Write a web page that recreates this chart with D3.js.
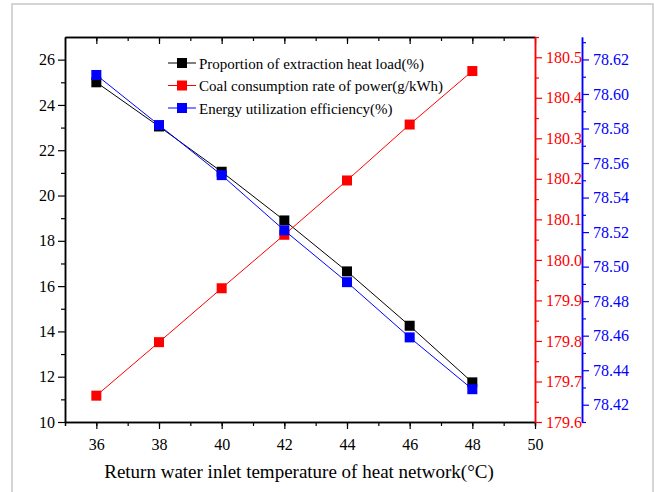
<!DOCTYPE html>
<html>
<head>
<meta charset="utf-8">
<script src="https://cdn.jsdelivr.net/npm/d3@7"></script>
<style>
  body { margin: 0; background: #fff; }
  svg text { font-family: "Liberation Serif", "Times New Roman", serif; }
</style>
</head>
<body>
<svg id="chart" width="654" height="492"></svg>
<script>
// data
var temps = [36, 38, 40, 42, 44, 46, 48];
var heatLoad = [25.0, 23.05, 21.05, 18.9, 16.65, 14.25, 11.75];
var coalRate = [179.665, 179.797, 179.93, 180.062, 180.196, 180.334, 180.466];
var efficiency = [78.611, 78.582, 78.553, 78.521, 78.491, 78.459, 78.429];

var xTicks = [36, 38, 40, 42, 44, 46, 48, 50];
var leftTicks = [10, 12, 14, 16, 18, 20, 22, 24, 26];
var redTicks = [179.6, 179.7, 179.8, 179.9, 180.0, 180.1, 180.2, 180.3, 180.4, 180.5];
var blueTicks = [78.42, 78.44, 78.46, 78.48, 78.50, 78.52, 78.54, 78.56, 78.58, 78.60, 78.62];

var legendNames = ["Proportion of extraction heat load(%)",
                   "Coal consumption rate of power(g/kWh)",
                   "Energy utilization efficiency(%)"];
var colors = ["#000", "#ff0000", "#0000ff"];

var L = 65, R = 535, T = 37, B = 422;
var svg = d3.select("#chart");

// grey frame
svg.append("rect")
    .attr("x", 12).attr("y", 4)
    .attr("width", 641).attr("height", 500)
    .attr("fill", "none")
    .attr("stroke", "#c8c8c8")
    .attr("stroke-width", 1.5);

var x = d3.scaleLinear().domain([35, 50]).range([L, R]);
var yL = d3.scaleLinear().domain([10, 27]).range([B, T]);
var yR = d3.scaleLinear().domain([179.6, 180.55]).range([B, T]);
var yB = d3.scaleLinear().domain([78.41, 78.633]).range([B, T]);

function styleAxis(g, col) {
    g.attr("font-family", "Liberation Serif, Times New Roman, serif").attr("font-size", 16);
    g.select(".domain").attr("stroke", col).attr("stroke-width", 1.5);
    g.selectAll(".tick line").attr("stroke", col).attr("stroke-width", 1.2);
    g.selectAll(".tick text").attr("fill", col);
}

// minor ticks first
var xMinor = d3.range(36, 50, 1);
svg.append("g").attr("transform", "translate(0," + B + ")")
    .call(d3.axisBottom(x).tickValues(xMinor).tickSize(4).tickFormat(""))
    .call(function(g){ styleAxis(g, "#000"); });
svg.append("g").attr("transform", "translate(0," + T + ")")
    .call(d3.axisBottom(x).tickValues(xMinor).tickSize(4).tickFormat("").tickSizeOuter(0))
    .call(function(g){ styleAxis(g, "#000"); });
svg.append("g").attr("transform", "translate(0," + T + ")")
    .call(d3.axisBottom(x).tickValues(xTicks).tickSize(7).tickFormat("").tickSizeOuter(0))
    .call(function(g){ styleAxis(g, "#000"); });

// bottom axis
svg.append("g").attr("transform", "translate(0," + B + ")")
    .call(d3.axisBottom(x).tickValues(xTicks).tickSize(7).tickPadding(10).tickSizeOuter(0))
    .call(function(g){ styleAxis(g, "#000"); });

// left axis
svg.append("g").attr("transform", "translate(" + L + ",0)")
    .call(d3.axisLeft(yL).tickValues(d3.range(11, 27, 2)).tickSize(4).tickFormat("").tickSizeOuter(0))
    .call(function(g){ styleAxis(g, "#000"); });
svg.append("g").attr("transform", "translate(" + L + ",0)")
    .call(d3.axisLeft(yL).tickValues(leftTicks).tickSize(7).tickPadding(3).tickSizeOuter(0))
    .call(function(g){ styleAxis(g, "#000"); });

// red right axis
svg.append("g").attr("transform", "translate(" + R + ",0)")
    .call(d3.axisRight(yR).tickValues(d3.range(179.65, 180.55, 0.1)).tickSize(4).tickFormat("").tickSizeOuter(0))
    .call(function(g){ styleAxis(g, "#ff0000"); });
svg.append("g").attr("transform", "translate(" + R + ",0)")
    .call(d3.axisRight(yR).tickValues(redTicks).tickSize(7).tickPadding(4)
        .tickFormat(d3.format(".1f")).tickSizeOuter(0))
    .call(function(g){ styleAxis(g, "#ff0000"); });

// blue right axis
var BX = 582;
svg.append("g").attr("transform", "translate(" + BX + ",0)")
    .call(d3.axisRight(yB).tickValues(d3.range(78.41, 78.635, 0.02)).tickSize(4).tickFormat("").tickSizeOuter(0))
    .call(function(g){ styleAxis(g, "#0000ff"); });
svg.append("g").attr("transform", "translate(" + BX + ",0)")
    .call(d3.axisRight(yB).tickValues(blueTicks).tickSize(7).tickPadding(4)
        .tickFormat(d3.format(".2f")).tickSizeOuter(0))
    .call(function(g){ styleAxis(g, "#0000ff"); });

// x title
svg.append("text")
    .attr("x", 299).attr("y", 478)
    .attr("text-anchor", "middle")
    .style("font-size", "19px")
    .text("Return water inlet temperature of heat network(\u00B0C)");

// series
var series = [
    {vals: heatLoad, y: yL, col: colors[0]},
    {vals: coalRate, y: yR, col: colors[1]},
    {vals: efficiency, y: yB, col: colors[2]}
];
var ms = 10;
series.forEach(function(s) {
    var line = d3.line()
        .x(function(d, i) { return x(temps[i]); })
        .y(function(d) { return s.y(d); });
    svg.append("path")
        .datum(s.vals)
        .attr("d", line)
        .attr("fill", "none")
        .attr("stroke", s.col)
        .attr("stroke-width", 1);
});
series.forEach(function(s) {
    svg.selectAll(null)
        .data(s.vals)
        .enter().append("rect")
        .attr("x", function(d, i) { return x(temps[i]) - ms / 2; })
        .attr("y", function(d) { return s.y(d) - ms / 2; })
        .attr("width", ms).attr("height", ms)
        .attr("fill", s.col);
});

// legend
var lg = svg.append("g").attr("transform", "translate(168,63)");
legendNames.forEach(function(name, i) {
    var row = lg.append("g").attr("transform", "translate(0," + (i * 22.5) + ")");
    row.append("line").attr("x1", 0).attr("x2", 28).attr("y1", 0).attr("y2", 0)
        .attr("stroke", colors[i]).attr("stroke-width", 1);
    row.append("rect").attr("x", 9).attr("y", -5).attr("width", 10).attr("height", 10)
        .attr("fill", colors[i]);
    row.append("text").attr("x", 31).attr("y", 5.5)
        .style("font-size", "15px")
        .text(name);
});
</script>
</body>
</html>
